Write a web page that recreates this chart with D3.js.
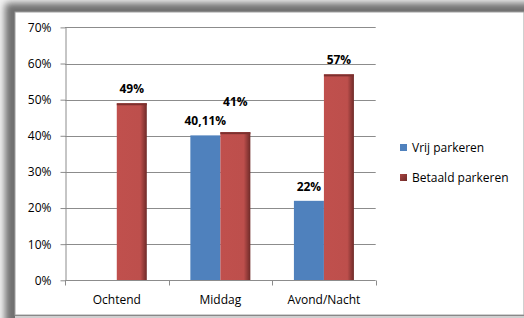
<!DOCTYPE html>
<html>
<head>
<meta charset="utf-8">
<script src="https://cdn.jsdelivr.net/npm/d3@7"></script>
<style>
  html, body { margin: 0; padding: 0; background: #fff; }
  svg { display: block; font-family: 'Open Sans', sans-serif; }
</style>
</head>
<body>
<div id="chart"></div>
<script>
// categorieën en reeksen (in %)
const categories = ['Ochtend', 'Middag', 'Avond/Nacht'];
const seriesNames = ['Vrij parkeren', 'Betaald parkeren'];
const vrijValues = [null, 40.11, 22];
const betaaldValues = [49, 41, 57];
const yTicks = [0, 10, 20, 30, 40, 50, 60, 70];

const W = 524, H = 318;
const plot = { left: 65, right: 375.7, top: 27.4, bottom: 280.3 };
const colors = { 'Vrij parkeren': '#4f81bd', 'Betaald parkeren': '#c0504d' };

// label dat omhoog geschoven is (zoals in het origineel)
const labelNudge = { 'Middag|Betaald parkeren': -16 };

const rows = [];
categories.forEach((c, i) => {
  rows.push({ cat: c, series: seriesNames[0], value: vrijValues[i] });
  rows.push({ cat: c, series: seriesNames[1], value: betaaldValues[i] });
});

const fmt = v => (Number.isInteger(v) ? `${v}` : `${v}`.replace('.', ',')) + '%';

const svg = d3.select('#chart').append('svg')
  .attr('width', W).attr('height', H);

const defs = svg.append('defs');

defs.append('filter').attr('id', 'blur')
  .attr('x', '-20%').attr('y', '-20%').attr('width', '140%').attr('height', '140%')
  .append('feGaussianBlur').attr('stdDeviation', 3.5);

const gRed = defs.append('linearGradient').attr('id', 'gRed')
  .attr('x1', 0).attr('y1', 0).attr('x2', 1).attr('y2', 0);
gRed.append('stop').attr('offset', '0%').attr('stop-color', '#c0504d');
gRed.append('stop').attr('offset', '78%').attr('stop-color', '#bd4f4c');
gRed.append('stop').attr('offset', '100%').attr('stop-color', '#6e2a28');

const gLegRed = defs.append('linearGradient').attr('id', 'gLegRed')
  .attr('x1', 0).attr('y1', 0).attr('x2', 1).attr('y2', 1);
gLegRed.append('stop').attr('offset', '0%').attr('stop-color', '#a94442');
gLegRed.append('stop').attr('offset', '100%').attr('stop-color', '#6e2a28');

// kader met schaduw
svg.append('rect').attr('x', 0).attr('y', 0).attr('width', W).attr('height', H).attr('fill', '#f2f2f2');
svg.append('rect').attr('x', 5).attr('y', 3).attr('width', W + 20).attr('height', H + 20)
  .attr('rx', 4).attr('fill', '#707070').attr('filter', 'url(#blur)');
svg.append('rect').attr('x', 15).attr('y', 12).attr('width', W - 15).attr('height', 303)
  .attr('fill', '#fff').attr('stroke', '#a0a0a0').attr('stroke-width', 1);
svg.append('rect').attr('x', 15).attr('y', 316).attr('width', W - 15).attr('height', 2).attr('fill', '#d0d0d0');

// schalen
const x0 = d3.scaleBand().domain(categories).range([plot.left, plot.right]);
const groupW = 60;
const x1 = d3.scaleBand().domain(seriesNames)
  .range([(x0.bandwidth() - groupW) / 2, (x0.bandwidth() + groupW) / 2]);
const y = d3.scaleLinear().domain([0, 70]).range([plot.bottom, plot.top]);

// rasterlijnen
svg.append('g')
  .selectAll('line')
  .data(yTicks.filter(t => t > 0))
  .join('line')
    .attr('x1', plot.left).attr('x2', plot.right)
    .attr('y1', d => Math.round(y(d)) + 0.5).attr('y2', d => Math.round(y(d)) + 0.5)
    .attr('stroke', '#8c8c8c');

// y-as
const yAxis = svg.append('g')
  .attr('transform', `translate(${plot.left + 0.5},0)`)
  .call(d3.axisLeft(y).tickValues(yTicks).tickFormat(d => d + '%').tickSize(5).tickSizeOuter(0));
yAxis.select('.domain').attr('stroke', '#8c8c8c');
yAxis.selectAll('.tick line').attr('stroke', '#8c8c8c');
yAxis.selectAll('.tick text')
  .attr('x', -14)
  .attr('fill', '#000')
  .style('font-size', '12px')
  .style('font-family', "'Open Sans', sans-serif");

// staven
const bars = svg.append('g')
  .selectAll('g')
  .data(rows.filter(d => d.value != null))
  .join('g')
    .attr('transform', d => `translate(${x0(d.cat) + x1(d.series)},0)`);

bars.append('rect')
  .attr('x', 0)
  .attr('y', d => y(d.value))
  .attr('width', x1.bandwidth())
  .attr('height', d => y(0) - y(d.value))
  .attr('fill', d => d.series === 'Betaald parkeren' ? 'url(#gRed)' : colors[d.series]);

bars.filter(d => d.series === 'Betaald parkeren')
  .append('rect')
  .attr('x', 0)
  .attr('y', d => y(d.value))
  .attr('width', x1.bandwidth())
  .attr('height', 2)
  .attr('fill', '#7d302e');

// x-as
const xAxis = svg.append('g')
  .attr('transform', `translate(0,${Math.round(plot.bottom) + 0.5})`);
xAxis.append('line')
  .attr('x1', plot.left).attr('x2', plot.right)
  .attr('stroke', '#8c8c8c');
xAxis.selectAll('line.tk')
  .data(categories.map(c => x0(c)).concat([plot.right]))
  .join('line')
    .attr('class', 'tk')
    .attr('x1', d => Math.round(d) + 0.5).attr('x2', d => Math.round(d) + 0.5)
    .attr('y1', 0).attr('y2', 5)
    .attr('stroke', '#8c8c8c');
xAxis.selectAll('text')
  .data(categories)
  .join('text')
    .attr('x', d => x0(d) + x0.bandwidth() / 2)
    .attr('y', 23)
    .attr('text-anchor', 'middle')
    .style('font-size', '12px')
    .text(d => d);

// datalabels
svg.append('g')
  .selectAll('text')
  .data(rows.filter(d => d.value != null))
  .join('text')
    .attr('x', d => x0(d.cat) + x1(d.series) + x1.bandwidth() / 2)
    .attr('y', d => y(d.value) - 10 + (labelNudge[`${d.cat}|${d.series}`] || 0))
    .attr('text-anchor', 'middle')
    .style('font-size', '12px')
    .style('font-weight', 'bold')
    .text(d => fmt(d.value));

// legenda
const legend = svg.append('g').attr('transform', 'translate(400,144)');
seriesNames.forEach((s, i) => {
  const y0 = i * 30;
  legend.append('rect')
    .attr('x', 0).attr('y', y0)
    .attr('width', 7).attr('height', 7)
    .attr('fill', i === 0 ? colors[s] : 'url(#gLegRed)');
  legend.append('text')
    .attr('x', 12).attr('y', y0 + 8)
    .style('font-size', '12px')
    .text(s);
});
</script>
</body>
</html>
